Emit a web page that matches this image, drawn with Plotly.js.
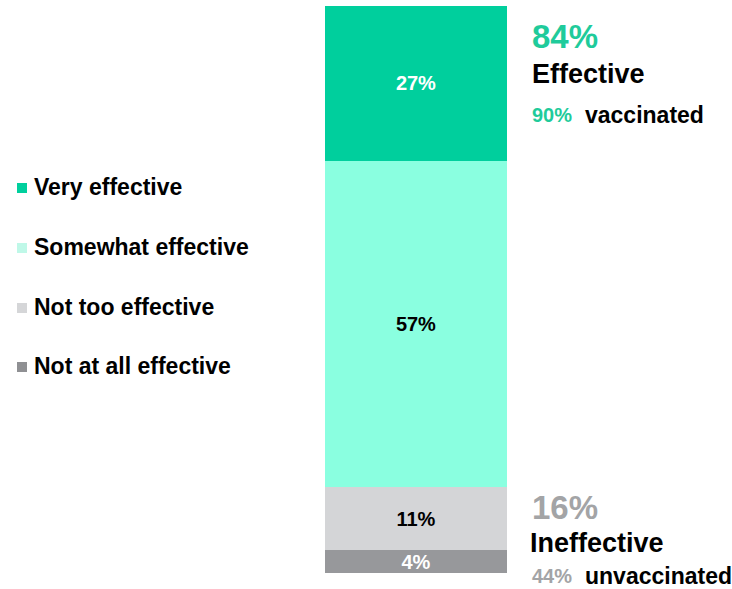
<!DOCTYPE html>
<html>
<head>
<meta charset="utf-8">
<script src="https://cdn.plot.ly/plotly-3.0.1.min.js"></script>
<style>
html,body{margin:0;padding:0;background:#fff;}
#chart{width:732px;height:589px;}
</style>
</head>
<body>
<div id="chart"></div>
<script>
// ---- data ----
const categories = ["All adults"];
const seriesNames = ["Not at all effective", "Not too effective", "Somewhat effective", "Very effective"];
const seriesValues = [4, 11, 57, 27];
const barColors = ["#97989b", "#d4d5d7", "#8affe0", "#00cf9d"];
const labelColors = ["#ffffff", "#000000", "#000000", "#ffffff"];
const legendColors = ["#8f9093", "#d5d6d8", "#bff8e8", "#00cf9d"];

const effectiveTotal = "84%";
const effectiveLabel = "Effective";
const effectiveSubValue = "90%";
const effectiveSubLabel = "vaccinated";
const ineffectiveTotal = "16%";
const ineffectiveLabel = "Ineffective";
const ineffectiveSubValue = "44%";
const ineffectiveSubLabel = "unvaccinated";

// ---- layout geometry (pixels) ----
const W = 732, H = 589;
const M = {l: 325, r: 225, t: 6, b: 16};
const PW = W - M.l - M.r, PH = H - M.t - M.b;
const px = x => (x - M.l) / PW;
const py = y => (H - M.b - y) / PH;
const FONT = "Liberation Sans, Arial, Helvetica, sans-serif";

const traces = seriesNames.map((name, i) => ({
  type: "bar",
  name: name,
  x: categories,
  y: [seriesValues[i]],
  marker: {color: barColors[i], line: {width: 0}},
  text: [seriesValues[i] + "%"],
  textposition: "inside",
  insidetextanchor: "middle",
  textangle: 0,
  constraintext: "none",
  textfont: {family: FONT, size: 20, color: labelColors[i], weight: 700},
  hoverinfo: "skip",
  showlegend: false
}));

const annotations = [];
const shapes = [];

// custom legend (top item first)
const legendY = [366, 307, 247, 187];
seriesNames.forEach((name, i) => {
  const cy = legendY[i];
  shapes.push({
    type: "rect", xref: "paper", yref: "paper",
    x0: px(17), x1: px(27), y0: py(cy + 6), y1: py(cy - 4),
    fillcolor: legendColors[i], line: {width: 0}
  });
  annotations.push({
    xref: "paper", yref: "paper", x: px(33), y: py(cy),
    xanchor: "left", yanchor: "middle", showarrow: false,
    text: name, borderpad: 0,
    font: {family: FONT, size: 23, color: "#000000", weight: 700}
  });
});

function ann(text, x, y, size, color) {
  annotations.push({
    xref: "paper", yref: "paper", x: px(x), y: py(y),
    xanchor: "left", yanchor: "middle", showarrow: false,
    text: text, borderpad: 0,
    font: {family: FONT, size: size, color: color, weight: 700}
  });
}
ann(effectiveTotal, 531, 36, 33, "#1fcb9b");
ann(effectiveLabel, 531, 74, 27, "#000000");
ann(effectiveSubValue, 531, 115, 20, "#1fcb9b");
ann(effectiveSubLabel, 584, 115, 23, "#000000");
ann(ineffectiveTotal, 531, 507, 33, "#a3a4a6");
ann(ineffectiveLabel, 529, 543, 27, "#000000");
ann(ineffectiveSubValue, 531, 576, 20, "#a3a4a6");
ann(ineffectiveSubLabel, 584, 576, 23, "#000000");

const layout = {
  width: W, height: H,
  margin: M,
  paper_bgcolor: "#ffffff",
  plot_bgcolor: "#ffffff",
  barmode: "stack",
  bargap: 0,
  showlegend: false,
  xaxis: {visible: false, fixedrange: true},
  yaxis: {visible: false, range: [0, 99], fixedrange: true},
  annotations: annotations,
  shapes: shapes,
  font: {family: FONT}
};

Plotly.newPlot("chart", traces, layout, {displayModeBar: false, staticPlot: true});
</script>
</body>
</html>
